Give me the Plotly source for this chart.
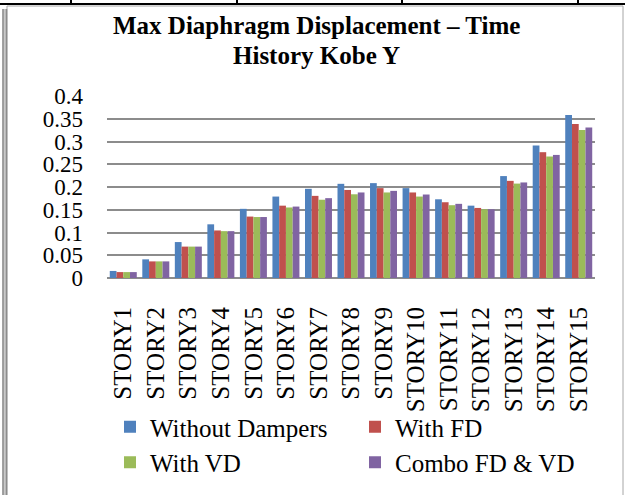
import plotly.graph_objects as go

stories = [f"STORY{i}" for i in range(1, 16)]
without_dampers = [0.0155, 0.041, 0.079, 0.118, 0.152, 0.179, 0.196, 0.207, 0.2085, 0.1975, 0.173, 0.159, 0.224, 0.291, 0.358]
with_fd = [0.013, 0.0365, 0.069, 0.1045, 0.135, 0.159, 0.1805, 0.1935, 0.1975, 0.188, 0.1665, 0.154, 0.2135, 0.2765, 0.3385]
with_vd = [0.013, 0.0365, 0.069, 0.103, 0.134, 0.155, 0.172, 0.184, 0.188, 0.179, 0.160, 0.151, 0.2075, 0.267, 0.3255]
combo = [0.013, 0.0365, 0.069, 0.103, 0.134, 0.157, 0.1755, 0.188, 0.1915, 0.1835, 0.163, 0.151, 0.21, 0.2705, 0.331]
y_ticks = [0, 0.05, 0.1, 0.15, 0.2, 0.25, 0.3, 0.35, 0.4]
title_lines = ["Max Diaphragm Displacement – Time", "History Kobe Y"]

SERIES = [
    ("Without Dampers", without_dampers, "#4F81BD"),
    ("With FD", with_fd, "#C0504D"),
    ("With VD", with_vd, "#9BBB59"),
    ("Combo FD & VD", combo, "#8064A2"),
]
FONT = "Liberation Serif"
W, H = 625, 495

# plot area in pixels (for the decorative frame)
L, R, T, B = 107, 595, 96, 278


def px(x):
    return (x - L) / (R - L)


def py(y):
    return (B - y) / (B - T)


fig = go.Figure()
for name, vals, color in SERIES:
    fig.add_trace(go.Bar(x=stories, y=vals, name=name, marker_color=color,
                         marker_line_width=0))

shapes = [
    dict(type="rect", x0=px(7), x1=px(623), y0=py(6), y1=py(500),
         line=dict(color="#a6a6a6", width=1)),
    dict(type="rect", x0=px(2.5), x1=px(7), y0=py(9), y1=py(500),
         fillcolor="#c8c8c8", line=dict(width=0)),
    dict(type="line", x0=px(3), x1=px(3), y0=py(9), y1=py(500),
         line=dict(color="#8c8c8c", width=1.5)),
    dict(type="line", x0=px(6.5), x1=px(6.5), y0=py(9), y1=py(500),
         line=dict(color="#8c8c8c", width=1.5)),
    dict(type="line", x0=px(0), x1=px(625), y0=py(4), y1=py(4),
         line=dict(color="black", width=2)),
]
for xv in [71, 237, 402, 578]:
    shapes.append(dict(type="line", x0=px(xv), x1=px(xv), y0=py(0), y1=py(4),
                       line=dict(color="black", width=2)))
for s in shapes:
    s.update(xref="paper", yref="paper", layer="below")

# two title lines placed separately to get the tighter line spacing
annotations = []
for text, yc in zip(title_lines, [25, 56]):
    annotations.append(dict(text=f"<b>{text}</b>", showarrow=False,
                            xref="paper", yref="paper", x=px(316), y=py(yc),
                            xanchor="center", yanchor="middle",
                            font=dict(size=25, family=FONT, color="black")))

fig.update_layout(
    width=W, height=H,
    margin=dict(l=L, r=W - R, t=T, b=H - B),
    paper_bgcolor="white", plot_bgcolor="white",
    font=dict(family=FONT, color="black"),
    barmode="group", bargap=0.17, bargroupgap=0,
    showlegend=True,
    legend=dict(orientation="h", x=110 / W, xanchor="left",
                y=1 - 404 / H, yanchor="top",
                xref="container", yref="container", entrywidth=200,
                font=dict(size=25, family=FONT), itemwidth=30,
                bgcolor="rgba(0,0,0,0)", tracegroupgap=0),
    shapes=shapes,
    annotations=annotations,
)
fig.update_xaxes(tickangle=-90, tickfont=dict(size=25, family=FONT),
                 showline=False, showgrid=False, ticklabelstandoff=23,
                 automargin=False)
fig.update_yaxes(range=[0, 0.4], tickvals=y_ticks,
                 ticktext=[f"{v:g}" for v in y_ticks],
                 tickfont=dict(size=23, family=FONT), showgrid=True,
                 gridcolor="#8c8c8c", gridwidth=2, zeroline=True,
                 zerolinecolor="#8c8c8c", zerolinewidth=2, showline=False,
                 ticklabelstandoff=23, automargin=False)

fig.write_html("out.html", config={"displayModeBar": False},
               post_script="document.body.style.margin='0';")
